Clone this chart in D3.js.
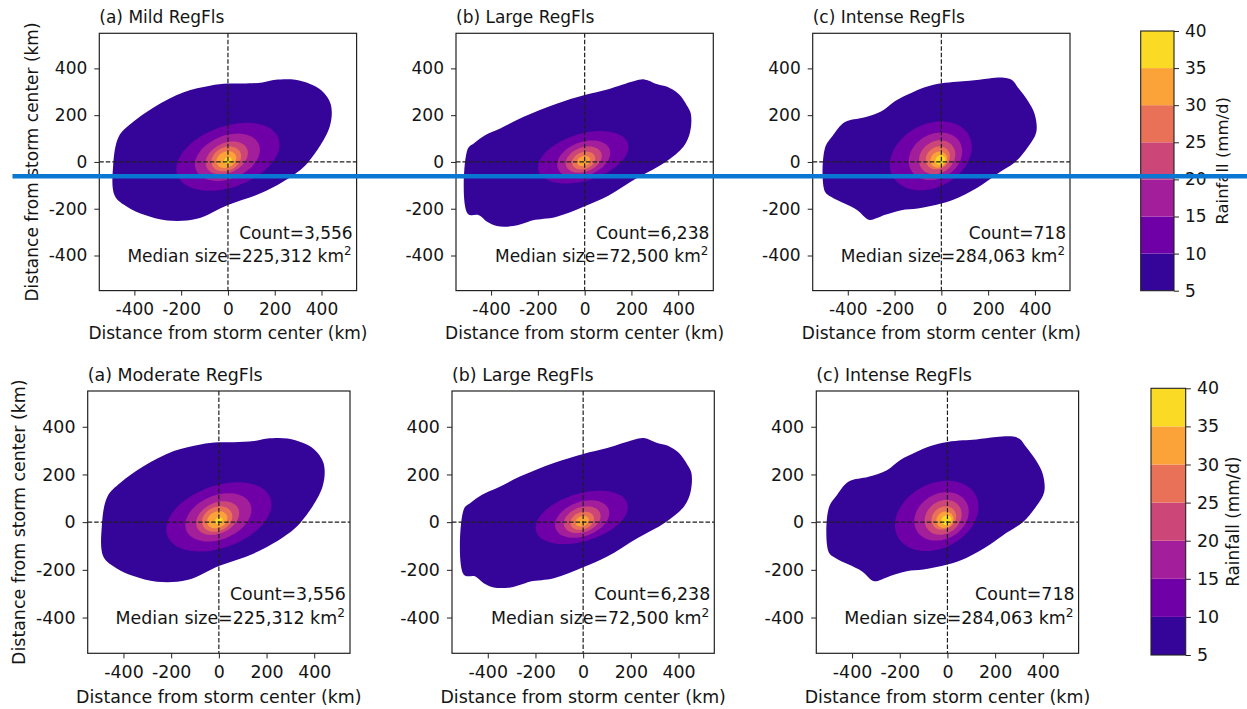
<!DOCTYPE html>
<html><head><meta charset="utf-8">
<script src="https://cdn.jsdelivr.net/npm/d3@7"></script>
<style>
body{margin:0;background:#fff}
svg{display:block}
text{font-family:"DejaVu Sans",sans-serif;fill:#141414}
</style>
</head><body>
<svg id="c" width="1247" height="709"></svg>
<script>
// ---------------- data ----------------
const rowTitles = [
  ["(a) Mild RegFls", "(b) Large RegFls", "(c) Intense RegFls"],
  ["(a) Moderate RegFls", "(b) Large RegFls", "(c) Intense RegFls"]
];
const counts = ["Count=3,556", "Count=6,238", "Count=718"];
const medianSizes = ["225,312", "72,500", "284,063"];
const axisTicks = [-400, -200, 0, 200, 400];
const axisTickLabels = ["-400", "-200", "0", "200", "400"];
const rainLevels = [5, 10, 15, 20, 25, 30, 35, 40];
const axisLabel = "Distance from storm center (km)";
const colorbarLabel = "Rainfall (mm/d)";

// outer (5 mm/d) contour of each composite, km from storm center [x, y]
const outlineMild = [[-467,108],[-491,-18],[-484,-145],[-428,-194],[-358,-226],[-260,-250],[-133,-243],[0,-184],[147,-131],[274,-60],[344,0],[435,150],[439,248],[400,305],[351,333],[288,351],[204,351],[147,340],[63,335],[0,335],[-77,326],[-189,298],[-316,234],[-414,164]];
const outlineLarge = [[-500,55],[-500,-221],[-452,-228],[-417,-256],[-375,-274],[-305,-274],[-263,-263],[-221,-249],[-123,-235],[0,-189],[101,-144],[227,-67],[346,0],[423,66],[451,129],[454,206],[437,241],[402,290],[353,321],[311,332],[255,353],[213,346],[101,311],[0,286],[-123,248],[-263,192],[-361,143],[-424,115],[-473,80]];
const outlineIntense = [[-498,58],[-498,-126],[-470,-150],[-414,-178],[-359,-206],[-310,-247],[-275,-240],[-240,-226],[-171,-206],[-101,-199],[0,-178],[79,-150],[177,-95],[246,-46],[316,0],[371,65],[406,128],[399,204],[371,260],[329,316],[302,350],[267,360],[204,357],[121,347],[65,343],[0,336],[-74,318],[-129,295],[-199,260],[-254,218],[-331,190],[-414,170],[-463,114]];

// inner contours (10,15,20,25,30,35 mm/d): [centerX, centerY, semiMajor, semiMinor, tiltDeg] in km
const innerMild = [[0,22,230,130,20],[-2,20,145,92,22],[-5,17,95,64,25],[-7,13,66,50,25],[-7,10,44,34,25],[0,6,17,14,30]];
const innerLarge = [[-6,20,200,100,17],[-4,13,118,72,20],[-4,10,80,52,20],[-4,6,51,36,20],[-4,4,29,21,20]];
const innerIntense = [[-45,26,185,135,28],[-25,24,120,95,30],[-18,20,82,68,35],[-15,17,54,46,35],[-11,10,37,33,35],[-4,8,22,20,40]];

// ---------------- layout ----------------
const rows = [
  {size:257.3, lefts:[99.3,456,812.7], top:33.3, font:17, cb:{x:1140.7,y:31,w:33.3,h:259.7}, ylabX:37.5, cbLabX:1228.4},
  {size:262.3, lefts:[87.7,452,816.3], top:391, font:17.4, cb:{x:1151,y:388.3,w:34.7,h:266.7}, ylabX:24.5, cbLabX:1239.4}
];
const outlines = [outlineMild, outlineLarge, outlineIntense];
const inners = [innerMild, innerLarge, innerIntense];
const nBands = rainLevels.length - 1;
const bandColors = d3.range(nBands).map(i => d3.interpolatePlasma((i + 0.5) / nBands));

const svg = d3.select("#c");
const defs = svg.append("defs");

rows.forEach((R, ri) => {
  const k = R.size / 257.3;
  const S = R.size, T = R.top;
  R.lefts.forEach((L, pi) => {
    const x = d3.scaleLinear().domain([-550, 550]).range([L, L + S]);
    const y = d3.scaleLinear().domain([-550, 550]).range([T + S, T]);
    const cid = "clip" + ri + pi;
    defs.append("clipPath").attr("id", cid).append("rect")
      .attr("x", L).attr("y", T).attr("width", S).attr("height", S);
    const g = svg.append("g");
    const pg = g.append("g").attr("clip-path", "url(#" + cid + ")");
    const line = d3.line().x(d => x(d[0])).y(d => y(d[1]))
      .curve(d3.curveCatmullRomClosed.alpha(0.5));
    pg.append("path").attr("d", line(outlines[pi])).attr("fill", bandColors[0]);
    inners[pi].forEach((e, li) => {
      const [cx, cy, a, b, ang] = e;
      const th = ang * Math.PI / 180;
      const pts = d3.range(0, 360, 6).map(t => {
        const r = t * Math.PI / 180, u = a * Math.cos(r), v = b * Math.sin(r);
        return [cx + u * Math.cos(th) - v * Math.sin(th), cy + u * Math.sin(th) + v * Math.cos(th)];
      });
      pg.append("path").attr("d", line(pts)).attr("fill", bandColors[li + 1]);
    });
    // dashed zero lines
    pg.append("line").attr("x1", x(0)).attr("x2", x(0)).attr("y1", T).attr("y2", T + S)
      .attr("stroke", "#1e1e1e").attr("stroke-width", 1.2).attr("stroke-dasharray", "4.5,2");
    pg.append("line").attr("x1", L).attr("x2", L + S).attr("y1", y(0)).attr("y2", y(0))
      .attr("stroke", "#1e1e1e").attr("stroke-width", 1.2).attr("stroke-dasharray", "4.5,2");
    // frame
    g.append("rect").attr("x", L).attr("y", T).attr("width", S).attr("height", S)
      .attr("fill", "none").attr("stroke", "#222").attr("stroke-width", 1.2);
    // axes
    const xa = g.append("g").attr("transform", "translate(0," + (T + S) + ")")
      .call(d3.axisBottom(x).tickValues(axisTicks).tickFormat((d, i) => axisTickLabels[i])
        .tickSize(5 * k).tickPadding(7.5 * k));
    const ya = g.append("g").attr("transform", "translate(" + L + ",0)")
      .call(d3.axisLeft(y).tickValues(axisTicks).tickFormat((d, i) => axisTickLabels[i])
        .tickSize(5 * k).tickPadding(7 * k));
    [xa, ya].forEach(a => {
      a.select(".domain").remove();
      a.selectAll("line").attr("stroke", "#222").attr("stroke-width", 1);
      a.selectAll("text").attr("font-size", R.font).attr("fill", "#141414")
        .style("font-family", "DejaVu Sans");
    });
    // title
    g.append("text").attr("x", L).attr("y", T - 10 * k).attr("font-size", R.font)
      .text(rowTitles[ri][pi]);
    // x label
    g.append("text").attr("x", L + S / 2).attr("y", T + S + 48.5 * k).attr("font-size", R.font)
      .attr("text-anchor", "middle").text(axisLabel);
    // y label (first column only)
    if (pi === 0) {
      g.append("text").attr("transform", "translate(" + R.ylabX + "," + (T + S / 2) + ") rotate(-90)")
        .attr("text-anchor", "middle").attr("font-size", R.font).text(axisLabel);
    }
    // annotations
    g.append("text").attr("x", L + S - 4 * k).attr("y", T + S - 52 * k).attr("font-size", R.font)
      .attr("text-anchor", "end").text(counts[pi]);
    const mt = g.append("text").attr("x", L + S - 5 * k).attr("y", T + S - 29 * k)
      .attr("font-size", R.font).attr("text-anchor", "end");
    mt.append("tspan").text("Median size=" + medianSizes[pi] + " km");
    mt.append("tspan").attr("dy", -7 * k).attr("font-size", R.font * 0.7).text("2");
  });

  // colorbar
  const cb = R.cb;
  const c = d3.scaleLinear().domain([rainLevels[0], rainLevels[rainLevels.length - 1]]).range([cb.y + cb.h, cb.y]);
  const cg = svg.append("g");
  d3.range(nBands).forEach(i => {
    cg.append("rect").attr("x", cb.x).attr("width", cb.w)
      .attr("y", c(rainLevels[i + 1])).attr("height", c(rainLevels[i]) - c(rainLevels[i + 1]))
      .attr("fill", bandColors[i]);
  });
  cg.append("rect").attr("x", cb.x).attr("y", cb.y).attr("width", cb.w).attr("height", cb.h)
    .attr("fill", "none").attr("stroke", "#222").attr("stroke-width", 1.1);
  const ca = cg.append("g").attr("transform", "translate(" + (cb.x + cb.w) + ",0)")
    .call(d3.axisRight(c).tickValues(rainLevels).tickSize(5 * k).tickPadding(6 * k));
  ca.select(".domain").remove();
  ca.selectAll("line").attr("stroke", "#222");
  ca.selectAll("text").attr("font-size", R.font).attr("fill", "#141414").style("font-family", "DejaVu Sans");
  cg.append("text").attr("transform", "translate(" + R.cbLabX + "," + (cb.y + cb.h / 2) + ") rotate(-90)")
    .attr("text-anchor", "middle").attr("font-size", R.font * 0.97).text(colorbarLabel);
});

// blue separator line drawn across the upper row
svg.append("line").attr("x1", 12.5).attr("x2", 1247).attr("y1", 176.3).attr("y2", 176.3)
  .attr("stroke", "#0a77d3").attr("stroke-width", 4.6);
</script>
</body></html>
